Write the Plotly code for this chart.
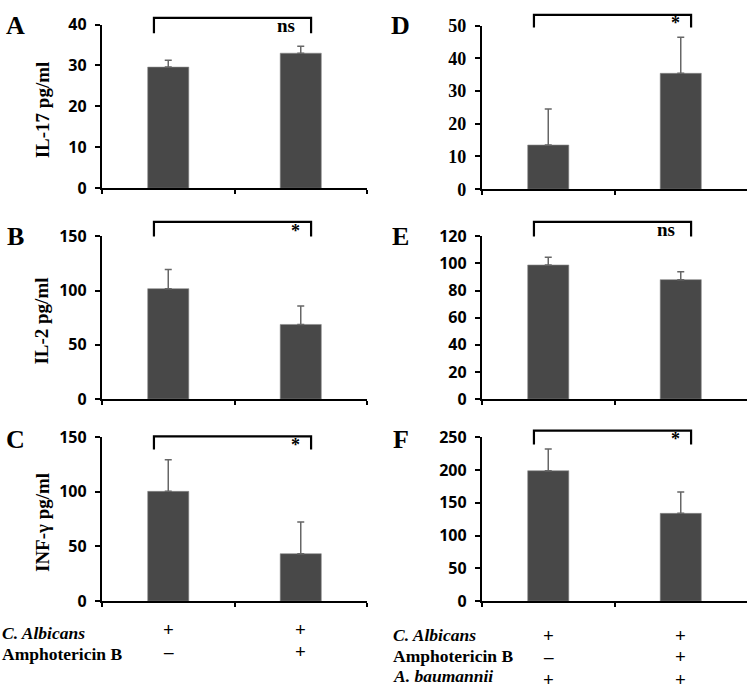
import plotly.graph_objects as go

W, H = 750, 699

groups = ["Control", "Amphotericin B"]

# Panel data (means and upper error)
il17_vals = [29.6, 33.0]
il17_err = [1.7, 1.7]
il2_vals = [101.8, 68.8]
il2_err = [17.6, 17.0]
ifng_vals = [100.4, 43.4]
ifng_err = [28.9, 28.9]

d_vals = [13.5, 35.4]
d_err = [11.0, 11.0]
e_vals = [98.9, 88.1]
e_err = [5.7, 5.8]
f_vals = [198.8, 133.8]
f_err = [33.0, 32.5]

panel_letters = ["A", "B", "C", "D", "E", "F"]
y_titles = ["IL-17 pg/ml", "IL-2 pg/ml", "INF-\u03b3 pg/ml", None, None, None]
y_ranges = [[0, 40], [0, 150], [0, 150], [0, 50], [0, 120], [0, 250]]
y_dticks = [10, 50, 50, 10, 20, 50]
sig_labels = ["ns", "*", "*", "*", "ns", "*"]

row_labels_left = ["<i>C. Albicans</i>", "Amphotericin B"]
row_signs_left = [["+", "+"], ["\u2013", "+"]]
row_labels_right = ["<i>C. Albicans</i>", "Amphotericin B", "<i>A. baumannii</i>"]
row_signs_right = [["+", "+"], ["\u2013", "+"], ["+", "+"]]

values = [il17_vals, il2_vals, ifng_vals, d_vals, e_vals, f_vals]
errors = [il17_err, il2_err, ifng_err, d_err, e_err, f_err]

# layout geometry in pixels
col_x = [(102, 367), (482, 747)]
row_y = [(14, 183), (232.7, 400.7), (440, 609.3)]
row_y_right = [(15, 184), (232.7, 400.7), (440, 609.3)]

def px(x):
    return x / W

def py(y):
    return 1 - y / H

fig = go.Figure()
layout = dict(
    width=W, height=H, margin=dict(l=0, r=0, t=0, b=0),
    paper_bgcolor="white", plot_bgcolor="white", showlegend=False,
    bargap=0.69,
)
annotations = []
shapes = []

serif = "Liberation Serif"
sans = "Open Sans"

for i in range(6):
    col = i // 3
    row = i % 3
    n = i + 1
    xa = "x" if n == 1 else f"x{n}"
    ya = "y" if n == 1 else f"y{n}"
    xkey = "xaxis" if n == 1 else f"xaxis{n}"
    ykey = "yaxis" if n == 1 else f"yaxis{n}"
    x0, x1 = col_x[col]
    ry = row_y_right[row] if col == 1 else row_y[row]
    ytop, ybot = ry
    fig.add_trace(go.Bar(
        x=groups, y=values[i], xaxis=xa, yaxis=ya,
        marker=dict(color="#484848", line=dict(color="#8a8a8a", width=0.6)),
        error_y=dict(type="data", array=errors[i], symmetric=False, arrayminus=[0, 0],
                     color="#666666", thickness=1.5, width=3.5),
        hoverinfo="skip",
    ))
    layout[xkey] = dict(
        domain=[px(x0), px(x1)], anchor=ya, showticklabels=False,
        showline=True, linecolor="black", linewidth=2.2,
        ticks="outside", tickson="boundaries", ticklen=4, tickwidth=2, tickcolor="black",
        showgrid=False, zeroline=False, fixedrange=True,
    )
    if i == 3:
        tick_font = dict(family=serif, size=18, color="black", weight="bold")
    else:
        tick_font = dict(family=sans, size=16, color="black", weight="bold")
    layout[ykey] = dict(
        domain=[py(ybot), py(ytop)], anchor=xa, range=y_ranges[i], dtick=y_dticks[i],
        showline=True, linecolor="black", linewidth=2.2,
        ticks="outside", ticklen=5, tickwidth=2, tickcolor="black",
        tickfont=tick_font, showgrid=False, zeroline=False, fixedrange=True,
        ticklabelstandoff=5,
    )
    # significance bracket
    xd = f"{xa} domain"
    yd = f"{ya} domain"
    bx0, bx1 = 0.196, 0.789
    top_px = {0: 7 if col == 0 else 4, 1: 217.7, 2: 439.3 if col == 0 else 433.3}[row]
    hook_px = {0: 23 if col == 0 else 17, 1: 232.7, 2: 452.7 if col == 0 else 447.7}[row]
    ht = (ybot - top_px) / (ybot - ytop)
    hb = (ybot - hook_px) / (ybot - ytop)
    shapes.append(dict(
        type="path", xref=xd, yref=yd,
        path=f"M {bx0},{hb} L {bx0},{ht} L {bx1},{ht} L {bx1},{hb}",
        line=dict(color="black", width=2.2),
    ))
    is_ns = sig_labels[i] == "ns"
    annotations.append(dict(
        xref=xd, yref=yd, x=0.695 if is_ns else 0.73, y=(ht + hb) / 2 - (0.0 if is_ns else 0.01),
        text=f"<b>{sig_labels[i]}</b>", showarrow=False,
        font=dict(family=serif, size=19 if is_ns else 18, color="black"),
        xanchor="center", yanchor="middle",
    ))
    # panel letters
    letter_x = 15 if col == 0 else 401
    letter_y = {0: 15, 1: 233, 2: 442}[row]
    annotations.append(dict(
        xref="paper", yref="paper", x=px(letter_x), y=py(letter_y),
        text=f"<b>{panel_letters[i]}</b>", showarrow=False,
        font=dict(family=serif, size=26, color="black"), xanchor="center", yanchor="middle",
    ))
    if y_titles[i]:
        annotations.append(dict(
            xref="paper", yref="paper", x=px(42), y=py((ytop + ybot) / 2 + 4),
            text=f"<b>{y_titles[i]}</b>", showarrow=False, textangle=-90,
            font=dict(family=serif, size=19, color="black"), xanchor="center", yanchor="middle",
        ))

# condition table beneath bottom panels
left_rows_y = [642, 664]
for k, lab in enumerate(row_labels_left):
    annotations.append(dict(
        xref="paper", yref="paper", x=px(0), y=py(left_rows_y[k]),
        text=f"<b>{lab}</b>", showarrow=False, xanchor="left", yanchor="middle",
        font=dict(family=serif, size=17.5, color="black"),
    ))
    for j, s in enumerate(row_signs_left[k]):
        annotations.append(dict(
            xref="x3", yref="paper", x=groups[j], y=py(left_rows_y[k] - 3),
            text=f"<b>{s}</b>", showarrow=False, xanchor="center", yanchor="middle",
            font=dict(family=serif, size=19, color="black"),
        ))

right_rows_y = [644, 666, 687]
right_sign_y = [645, 666, 690]
for k, lab in enumerate(row_labels_right):
    annotations.append(dict(
        xref="paper", yref="paper", x=px(391), y=py(right_rows_y[k]),
        text=f"<b>{lab}</b>", showarrow=False, xanchor="left", yanchor="middle",
        font=dict(family=serif, size=17.5, color="black"),
    ))
    for j, s in enumerate(row_signs_right[k]):
        annotations.append(dict(
            xref="x6", yref="paper", x=groups[j], y=py(right_sign_y[k]),
            text=f"<b>{s}</b>", showarrow=False, xanchor="center", yanchor="middle",
            font=dict(family=serif, size=19, color="black"),
        ))

layout["annotations"] = annotations
layout["shapes"] = shapes
fig.update_layout(**layout)
fig.write_html(
    "out.html",
    config={"displayModeBar": False, "staticPlot": True},
    post_script="document.body.style.margin='0';document.body.style.overflow='hidden';",
)
